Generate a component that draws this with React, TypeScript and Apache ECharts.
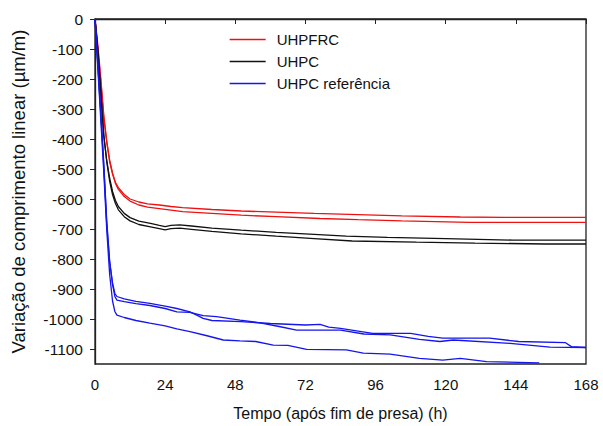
import React, { useEffect, useRef } from "react";
import * as echarts from "echarts";

const xTicks = [0, 24, 48, 72, 96, 120, 144, 168];
const yTicks = [0, -100, -200, -300, -400, -500, -600, -700, -800, -900, -1000, -1100];

const seriesNames = ["UHPFRC", "UHPC", "UHPC referência"];

const uhpfrcA: number[][] = [[0,0],[1,-100],[2,-210],[3,-330],[4,-410],[5,-475],[6,-515],[7,-545],[8,-562],[10,-585],[12,-600],[15,-610],[18,-616],[22,-620],[26,-625],[30,-629],[40,-635],[50,-640],[62,-644],[75,-648],[90,-652],[105,-656],[125,-660],[140,-661],[168,-661]];
const uhpfrcB: number[][] = [[0,0],[1,-90],[2,-200],[3,-320],[4,-405],[5,-470],[6,-515],[7,-548],[8,-568],[10,-592],[12,-607],[15,-620],[18,-627],[22,-632],[26,-637],[30,-642],[40,-648],[50,-654],[62,-659],[77,-665],[90,-669],[105,-673],[128,-678],[168,-678]];

const uhpcA: number[][] = [[0,0],[1,-110],[2,-250],[3,-390],[4,-470],[5,-530],[6,-575],[7,-605],[8,-625],[10,-648],[12,-662],[15,-674],[19,-681],[22,-688],[24,-692],[26,-688],[29,-686],[33,-690],[40,-697],[50,-704],[62,-711],[75,-718],[86,-724],[100,-728],[120,-732],[143,-737],[168,-737]];
const uhpcB: number[][] = [[0,0],[1,-105],[2,-245],[3,-385],[4,-475],[5,-540],[6,-585],[7,-615],[8,-636],[10,-659],[12,-673],[15,-685],[19,-693],[22,-699],[24,-703],[26,-699],[29,-697],[33,-701],[40,-708],[50,-716],[62,-724],[75,-732],[88,-740],[110,-744],[130,-747],[154,-750],[168,-750]];

const refA: number[][] = [[0,0],[1,-160],[2,-320],[3,-490],[4,-680],[5,-810],[6,-880],[6.8,-915],[7.5,-925],[10,-933],[14,-941],[18.8,-948],[24,-957],[28,-965],[32.5,-976],[35,-988],[37,-998],[40,-1005],[50,-1009],[60,-1015],[72,-1020],[77,-1018],[80,-1027],[84,-1031],[95,-1048],[108,-1048],[114,-1058],[119,-1064],[135,-1064],[145,-1075],[161,-1079],[163,-1092],[168,-1095]];
const refB: number[][] = [[0,0],[1,-150],[2,-310],[3,-480],[4,-670],[5,-805],[6,-885],[6.8,-925],[7.5,-937],[10,-942],[14,-949],[18.8,-955],[24,-965],[28,-976],[32.5,-978],[37,-989],[41.6,-992],[49.6,-1004],[56,-1012],[63,-1025],[69,-1037],[84,-1037],[92,-1050],[101,-1053],[111,-1068],[118,-1075],[122.6,-1070],[142,-1081],[155.7,-1094],[168,-1095]];
const refC: number[][] = [[0,0],[1,-170],[2,-340],[3,-510],[4,-700],[5,-850],[6,-940],[6.8,-975],[7.5,-987],[10,-995],[14,-1005],[18.8,-1014],[24,-1023],[28,-1033],[32.5,-1042],[38,-1055],[43.9,-1070],[49.6,-1073],[55,-1075],[61,-1087],[66,-1088],[72.4,-1101],[86,-1103],[91.8,-1114],[101,-1117],[111,-1131],[119,-1137],[125,-1131],[134,-1142],[152,-1146]];

const FONT = "'Liberation Sans', Arial, sans-serif";

export default function App() {
  const ref = useRef<HTMLDivElement>(null);
  useEffect(() => {
    if (!ref.current) return;
    const chart = echarts.init(ref.current, null, { renderer: "svg" });
    const mk = (name: string, data: number[][], color: string) => ({
      name,
      type: "line",
      data,
      symbol: "none",
      smooth: false,
      clip: true,
      lineStyle: { color, width: 1.3 },
      itemStyle: { color },
    });
    chart.setOption({
      animation: false,
      backgroundColor: "#fff",
      textStyle: { fontFamily: FONT },
      grid: {
        left: 95, top: 19, right: 17, bottom: 62,
        show: true, borderColor: "#222", borderWidth: 1.3, backgroundColor: "transparent",
      },
      legend: {
        data: seriesNames,
        orient: "vertical",
        left: 229,
        top: 32,
        padding: 0,
        itemWidth: 36,
        itemHeight: 14,
        itemGap: 7,
        itemStyle: { opacity: 0 },
        lineStyle: { width: 1.3 },
        textStyle: { fontSize: 15, color: "#111", fontFamily: FONT, padding: [0, 0, 0, 6] },
      },
      xAxis: {
        type: "value",
        min: 0,
        max: 168,
        interval: 24,
        name: "Tempo (após fim de presa) (h)",
        nameLocation: "middle",
        nameGap: 41,
        nameTextStyle: { fontSize: 16, color: "#111", fontFamily: FONT },
        axisLine: { show: true, lineStyle: { color: "#222", width: 1.3 } },
        axisTick: { show: true, inside: false, length: 5, lineStyle: { color: "#222" } },
        axisLabel: { fontSize: 15, color: "#111", margin: 13, fontFamily: FONT, formatter: (v: number) => String(v) },
        splitLine: { show: false },
      },
      yAxis: {
        type: "value",
        min: -1150,
        max: 0,
        name: "Variação de comprimento linear (µm/m)",
        nameLocation: "middle",
        nameGap: 67,
        nameTextStyle: { fontSize: 18.5, color: "#111", fontFamily: FONT },
        axisLine: { show: true, lineStyle: { color: "#222", width: 1.3 } },
        axisTick: { show: true, inside: false, length: 5, lineStyle: { color: "#222" }, customValues: yTicks },
        axisLabel: { fontSize: 15.5, color: "#111", margin: 12, fontFamily: FONT, customValues: yTicks, formatter: (v: number) => String(v) },
        splitLine: { show: false },
      },
      series: [
        mk(seriesNames[0], uhpfrcA, "#ee1111"),
        mk(seriesNames[0], uhpfrcB, "#ee1111"),
        mk(seriesNames[1], uhpcA, "#111111"),
        mk(seriesNames[1], uhpcB, "#111111"),
        mk(seriesNames[2], refA, "#1515ee"),
        mk(seriesNames[2], refB, "#1515ee"),
        mk(seriesNames[2], refC, "#1515ee"),
      ],
    });
    return () => chart.dispose();
  }, []);
  return (
    <div
      ref={ref}
      style={{ position: "fixed", left: 0, top: 0, width: 603, height: 426 }}
    />
  );
}
